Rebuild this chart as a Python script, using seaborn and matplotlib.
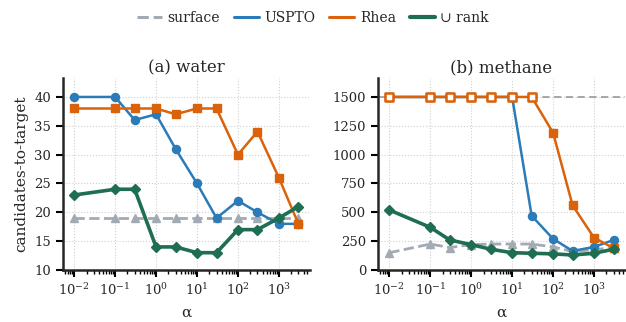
import numpy as np
import pandas as pd
import matplotlib
matplotlib.use("Agg")
import matplotlib.pyplot as plt
import seaborn as sns
from matplotlib.lines import Line2D
from matplotlib.ticker import LogLocator

alpha = [0.01, 0.1, 0.3, 1, 3, 10, 30, 100, 300, 1000, 3000]

water_surface = [19, 19, 19, 19, 19, 19, 19, 19, 19, 19, 19]
water_uspto = [40, 40, 36, 37, 31, 25, 19, 22, 20, 18, 18]
water_rhea = [38, 38, 38, 38, 37, 38, 38, 30, 34, 26, 18]
water_union = [23, 24, 24, 14, 14, 13, 13, 17, 17, 19, 21]

methane_surface = [150, 225, 195, 220, 225, 225, 225, 200, 160, 175, 195]
methane_uspto = [1500, 1500, 1500, 1500, 1500, 1500, 470, 270, 165, 200, 260]
methane_rhea = [1500, 1500, 1500, 1500, 1500, 1500, 1500, 1190, 560, 280, 190]
methane_union = [520, 370, 260, 220, 180, 150, 145, 140, 130, 145, 180]
methane_cap = 1500

series_names = ["surface", "USPTO", "Rhea", "\u222a rank"]
colors = {"surface": "#a2aab3", "USPTO": "#2a7bb8", "Rhea": "#d9620b", "\u222a rank": "#1f6e52"}
markers = {"surface": "^", "USPTO": "o", "Rhea": "s", "\u222a rank": "D"}
lws = {"surface": 2.0, "USPTO": 1.8, "Rhea": 1.8, "\u222a rank": 2.6}
msizes = {"surface": 6.0, "USPTO": 5.8, "Rhea": 5.8, "\u222a rank": 5.6}

sns.set_theme(style="ticks")
plt.rcParams["font.family"] = ["DejaVu Serif"]
plt.rcParams["mathtext.fontset"] = "dejavuserif"

fig = plt.figure(figsize=(6.26, 3.22), dpi=100)
ax1 = fig.add_axes([0.1006, 0.1615, 0.394, 0.5965])
ax2 = fig.add_axes([0.604, 0.1615, 0.394, 0.5965])

def draw(ax, data, title, ylim, cap=None):
    df = pd.DataFrame({"alpha": alpha * 4,
                       "value": sum(data, []),
                       "series": sum([[n] * len(alpha) for n in series_names], [])})
    if cap is not None:
        ax.axhline(cap, color="#a0a0a0", lw=1.3, ls=(0, (4, 2.5)), zorder=1)
    for i, name in enumerate(series_names):
        sub = df[df.series == name]
        sns.lineplot(data=sub, x="alpha", y="value", ax=ax, color=colors[name],
                     marker=markers[name], markersize=msizes[name], markeredgewidth=1.0,
                     markeredgecolor=colors[name], lw=lws[name],
                     linestyle="--" if name == "surface" else "-",
                     zorder=2 + i, legend=False)
    if cap is not None:
        sub = df[(df.series == "Rhea") & (df.value >= cap)]
        ax.scatter(sub["alpha"], sub["value"], marker="s", s=28, facecolor="white",
                   edgecolor=colors["Rhea"], linewidth=1.8, zorder=10)
    ax.set_xscale("log")
    ax.xaxis.set_major_locator(LogLocator(base=10, numticks=12))
    ax.xaxis.set_minor_locator(LogLocator(base=10, subs=np.arange(2, 10), numticks=12))
    ax.set_ylim(*ylim)
    ax.set_title(title, fontsize=12, pad=4)
    ax.set_xlabel("\u03b1", fontsize=11, labelpad=6)
    ax.set_ylabel("")
    ax.grid(True, which="major", ls=":", color="#d0d0d0", lw=0.8)
    for s in ["left", "bottom"]:
        ax.spines[s].set_linewidth(1.8)
    for s in ["top", "right"]:
        ax.spines[s].set_visible(False)
    ax.tick_params(axis="both", which="major", labelsize=9.5, width=1.5, length=5, color="black")
    ax.tick_params(axis="x", which="minor", width=1.0, length=3, color="black")

draw(ax1, [water_surface, water_uspto, water_rhea, water_union], "(a) water", (10, 43.3))
draw(ax2, [methane_surface, methane_uspto, methane_rhea, methane_union], "(b) methane", (0, 1665),
     cap=methane_cap)
ax1.set_yticks([10, 15, 20, 25, 30, 35, 40])
ax2.set_yticks([0, 250, 500, 750, 1000, 1250, 1500])
ax1.set_ylabel("candidates-to-target", fontsize=11)

handles = [Line2D([], [], color=colors[n], lw=2.2 if n != "\u222a rank" else 3,
                  ls="--" if n == "surface" else "-") for n in series_names]
fig.legend(handles, series_names, loc="center", bbox_to_anchor=(0.5, 0.945), ncol=4,
           frameon=False, fontsize=10, handlelength=1.8, handletextpad=0.4, columnspacing=1.0)

fig.savefig("out.png", dpi=100)
